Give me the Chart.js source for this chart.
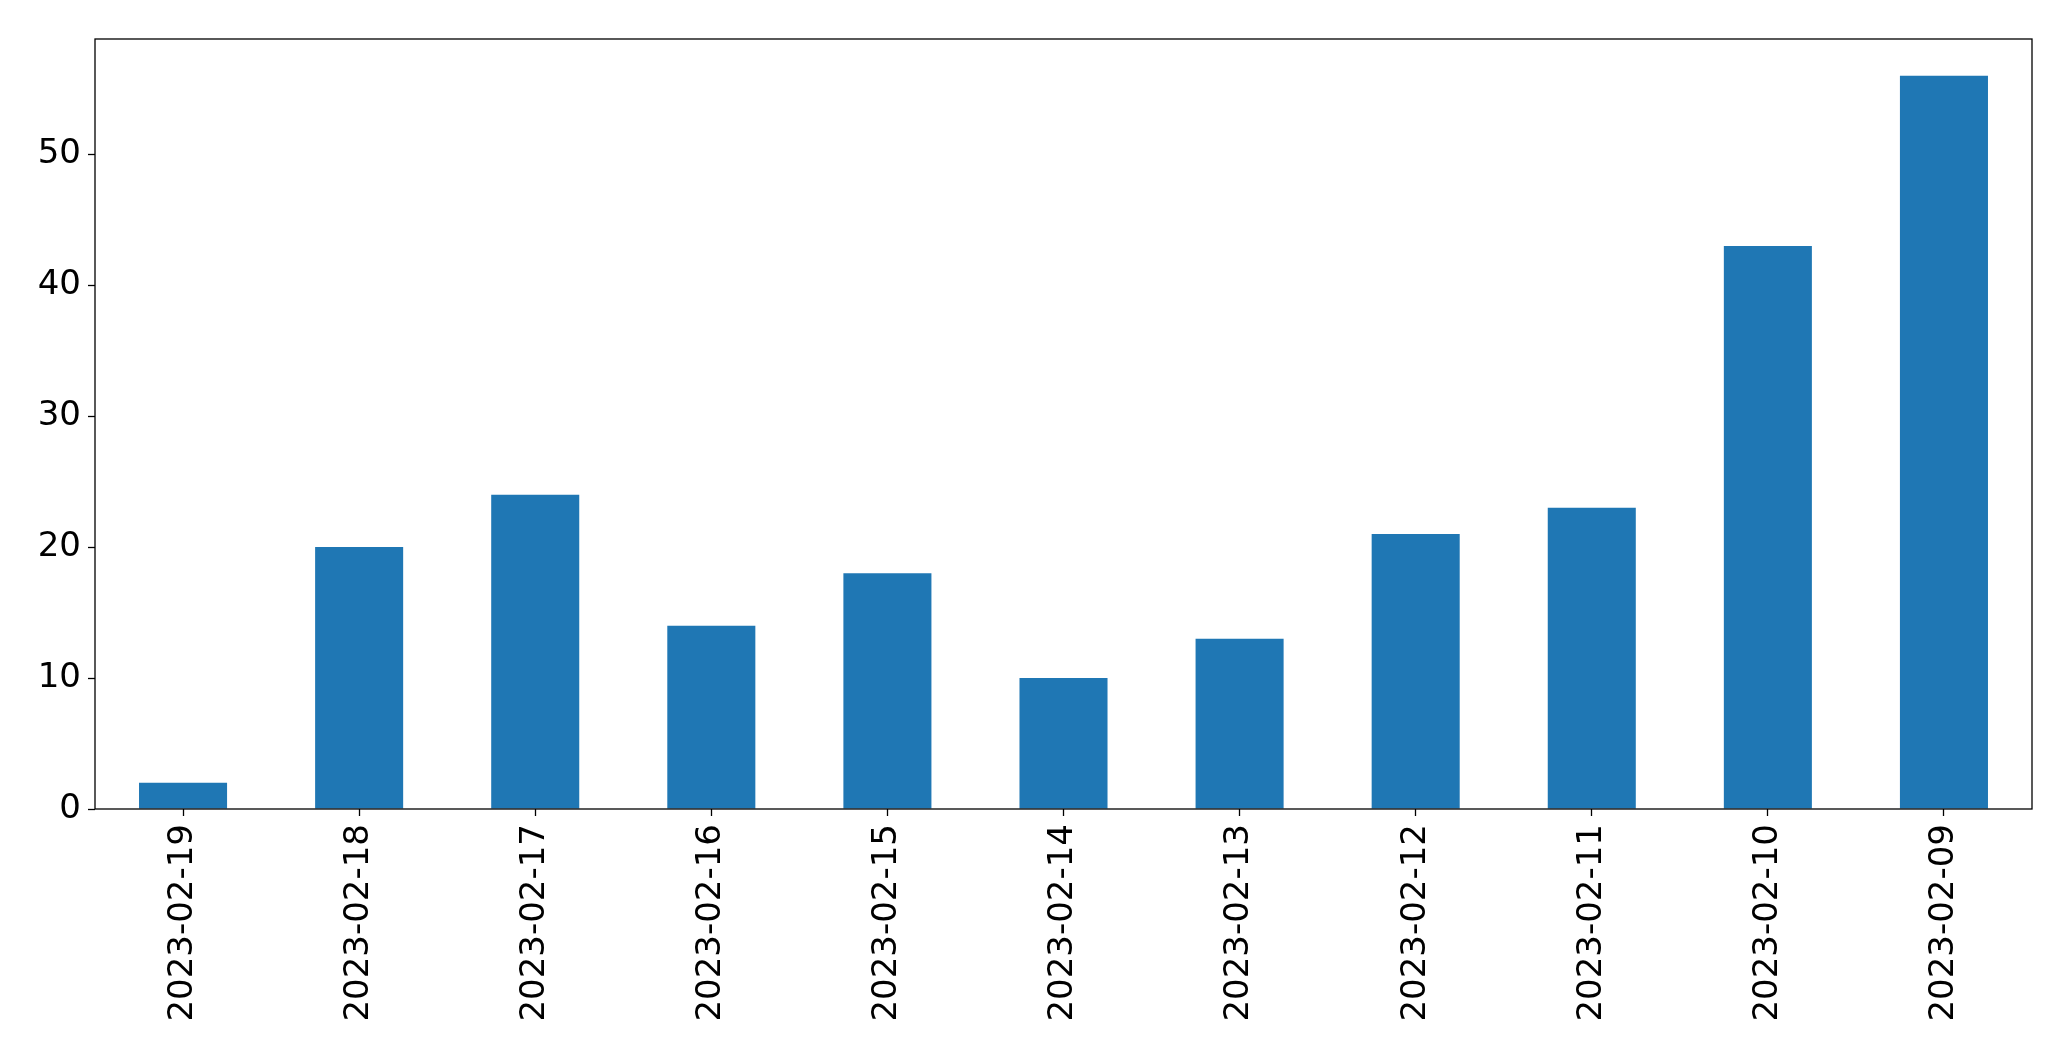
<!DOCTYPE html>
<html>
<head>
<meta charset="utf-8">
<script src="https://cdn.jsdelivr.net/npm/chart.js@4/dist/chart.umd.min.js"></script>
<style>
  html, body { margin: 0; padding: 0; background: #fff; }
  #wrap { width: 2071px; height: 1061px; }
</style>
</head>
<body>
<div id="wrap"><canvas id="grafico" width="2071" height="1061"></canvas></div>
<script>
const datas = ['2023-02-19', '2023-02-18', '2023-02-17', '2023-02-16', '2023-02-15', '2023-02-14',
               '2023-02-13', '2023-02-12', '2023-02-11', '2023-02-10', '2023-02-09'];
const contagens = [2, 20, 24, 14, 18, 10, 13, 21, 23, 43, 56];
const yTicks = [0, 10, 20, 30, 40, 50];
const yMax = 58.8;

// moldura em volta da área do gráfico (estilo matplotlib)
const moldura = {
  id: 'moldura',
  afterDraw(chart) {
    const a = chart.chartArea;
    const c = chart.ctx;
    c.save();
    c.strokeStyle = '#000';
    c.lineWidth = 1.3;
    c.strokeRect(a.left, a.top, a.right - a.left, a.bottom - a.top);
    c.restore();
  }
};

const ctx = document.getElementById('grafico').getContext('2d');
new Chart(ctx, {
  type: 'bar',
  data: {
    labels: datas,
    datasets: [{
      data: contagens,
      backgroundColor: '#1f77b4',
      barPercentage: 0.5,
      categoryPercentage: 1.0
    }]
  },
  options: {
    responsive: false,
    animation: false,
    layout: { padding: { left: 0, top: 39, right: 39, bottom: 0 } },
    plugins: { legend: { display: false }, tooltip: { enabled: false } },
    scales: {
      x: {
        grid: { display: true, offset: false, drawOnChartArea: false, tickLength: 7, color: '#000', tickWidth: 1.3 },
        border: { display: false },
        ticks: {
          minRotation: 90, maxRotation: 90, autoSkip: false,
          padding: 8, color: '#000',
          font: { family: 'DejaVu Sans', size: 34 }
        },
        afterFit(scale) { scale.height = 252; }
      },
      y: {
        min: 0, max: yMax,
        grid: { display: true, drawOnChartArea: false, tickLength: 7, color: '#000', tickWidth: 1.3 },
        border: { display: false },
        ticks: {
          stepSize: 10, padding: 7, color: '#000',
          font: { family: 'DejaVu Sans', size: 34 }
        },
        afterBuildTicks(scale) {
          scale.ticks = yTicks.map(v => ({ value: v }));
        },
        afterFit(scale) { scale.width = 95; }
      }
    }
  },
  plugins: [moldura]
});
</script>
</body>
</html>
